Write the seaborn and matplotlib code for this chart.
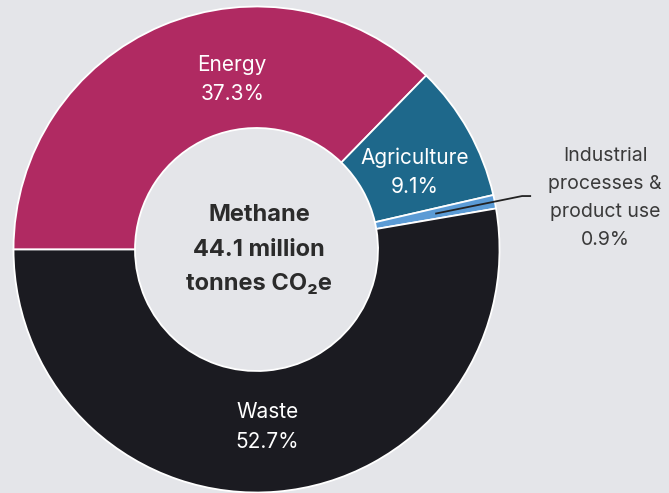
import numpy as np
import matplotlib
matplotlib.use("Agg")
import matplotlib.pyplot as plt
import seaborn as sns

# Methane emissions by sector (share of total, %)
sectors = ["Energy", "Agriculture", "Industrial\nprocesses &\nproduct use", "Waste"]
shares = [37.3, 9.1, 0.9, 52.7]
colors = ["#b02a62", "#1e688b", "#5b9bd5", "#1b1b21"]
center_lines = ["Methane", "44.1 million", "tonnes CO₂e"]

bg = "#e4e5e9"
sns.set_theme(style="white")
plt.rcParams["font.family"] = ["Inter", "DejaVu Sans"]

fig = plt.figure(figsize=(6.69, 4.93), dpi=100, facecolor=bg)
ax = fig.add_axes([0, 0, 1, 1])
ax.set_facecolor(bg)

wedges, _ = ax.pie(
    shares,
    colors=colors,
    startangle=180,
    counterclock=False,
    radius=1.0,
    wedgeprops=dict(width=0.5, edgecolor="white", linewidth=1.3),
)

ax.set_xlim(-1.0556, 1.6975)
ax.set_ylim(-1.002, 1.0267)
ax.set_aspect("equal")
ax.axis("off")

# In-ring labels (positions in data units)
inner_pos = {"Energy": (-0.10, 0.70), "Agriculture": (0.652, 0.318), "Waste": (0.045, -0.73)}
for name, share, w in zip(sectors, shares, wedges):
    if name in inner_pos:
        x, y = inner_pos[name]
        ax.text(x, y, f"{name}\n{share:.1f}%", ha="center", va="center",
                color="white", fontsize=15, linespacing=1.6)

# Callout for the thin slice
w = wedges[2]
mid = np.deg2rad((w.theta1 + w.theta2) / 2)
px, py = 0.75 * np.cos(mid), 0.75 * np.sin(mid)
ax.plot([px, 1.093, 1.13], [py, 0.22, 0.22], color="#222222", lw=1.3,
        solid_capstyle="butt")
ax.text(1.435, 0.212, f"{sectors[2]}\n{shares[2]:.1f}%", ha="center", va="center",
        color="#3a3a3a", fontsize=14, linespacing=1.72)

# Centre total
ax.text(0.01, 0.0, "\n".join(center_lines), ha="center", va="center",
        color="#2b2b2b", fontsize=17, fontweight="bold", linespacing=1.75)

fig.savefig("out.png", dpi=100, facecolor=bg)
